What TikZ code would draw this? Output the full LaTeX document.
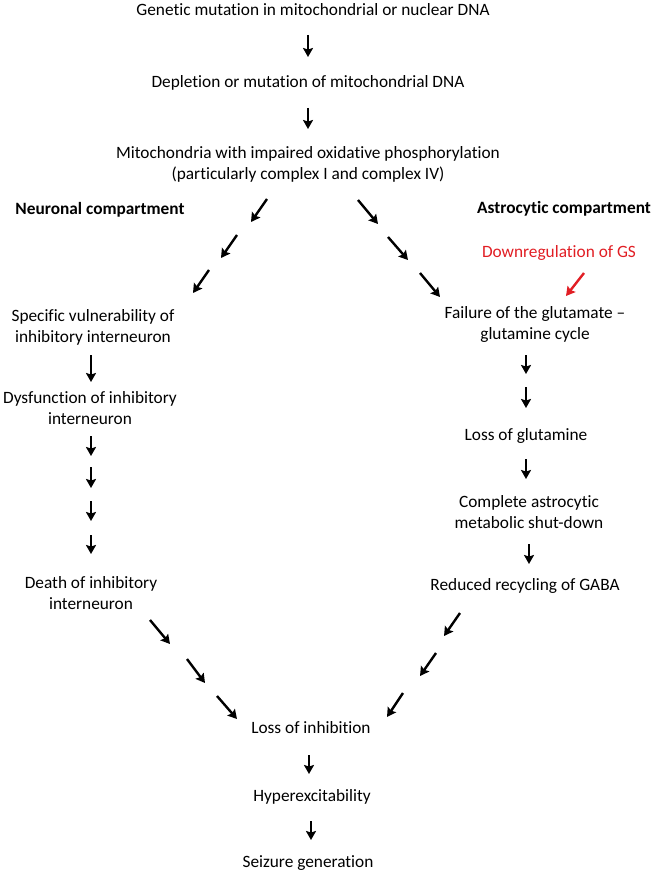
\documentclass[tikz,border=0pt]{standalone}
\usepackage{fontspec}
\setmainfont[Ligatures={NoCommon}]{Carlito}
\usetikzlibrary{arrows.meta}
\definecolor{gsred}{RGB}{225,30,36}
\begin{document}
\begin{tikzpicture}[x=1pt,y=-1pt,
  txt/.style={font=\fontsize{17.3}{21}\selectfont, align=center, inner sep=0pt, anchor=center},
  hdr/.style={txt, font=\fontsize{17.3}{21}\selectfont\bfseries},
  arr/.style={line width=2.4pt, -{Stealth[length=9pt,width=10pt,inset=1.5pt]}},
  redarr/.style={arr, draw=gsred}]
\useasboundingbox (0,0) rectangle (655,874);
% nodes
\node[txt] (t1) at (313,10) {Genetic mutation in mitochondrial or nuclear DNA};
\node[txt] (t2) at (308,83) {Depletion or mutation of mitochondrial DNA};
\node[txt] (t3) at (308,164) {Mitochondria with impaired oxidative phosphorylation\\(particularly complex I and complex IV)};
\node[hdr] (hn) at (100,210) {Neuronal compartment};
\node[hdr] (ha) at (564,209) {Astrocytic compartment};
\node[txt, text=gsred] (gs) at (559,253) {Downregulation of GS};
\node[txt] (n1) at (93,327) {Specific vulnerability of\\inhibitory interneuron};
\node[txt] (n2) at (90,408) {Dysfunction of inhibitory\\interneuron};
\node[txt] (n3) at (91,593) {Death of inhibitory\\interneuron};
\node[txt] (a1) at (535,324) {Failure of the glutamate --\\glutamine cycle};
\node[txt] (a2) at (526,436) {Loss of glutamine};
\node[txt] (a3) at (529,512) {Complete astrocytic\\metabolic shut-down};
\node[txt] (a4) at (525,586) {Reduced recycling of GABA};
\node[txt] (b1) at (311,728) {Loss of inhibition};
\node[txt] (b2) at (312,797) {Hyperexcitability};
\node[txt] (b3) at (308,863) {Seizure generation};
% arrow end points
\foreach \n/\xa/\ya/\xb/\yb in {
  c1/308/35/308/57, c2/308/108/308/129,
  l1/267/199/251/222, l2/237/235/221/258, l3/209/270/193/293,
  r1/358/200/378/224, r2/388/237/408/260, r3/420/273/440/297,
  g1/584/273/566/296,
  v1/91/355/91/382, v2/91/436/91/456, v3/91/467/91/488, v4/91/501/91/521, v5/91/535/91/554,
  w1/526/355/526/374, w2/526/387/526/408, w3/526/459/526/479, w4/529/544/529/564,
  d1/150/620/170/644, d2/187/659/205/683, d3/217/696/237/719,
  e1/460/613/444/636, e2/436/653/420/676, e3/403/693/387/717,
  f1/309/755/309/774, f2/311/821/311/840}
  {\coordinate (\n s) at (\xa,\ya); \coordinate (\n e) at (\xb,\yb);}
\foreach \n in {c1,c2,l1,l2,l3,r1,r2,r3,v1,v2,v3,v4,v5,w1,w2,w3,w4,d1,d2,d3,e1,e2,e3,f1,f2}
  {\draw[arr] (\n s) -- (\n e);}
\draw[redarr] (g1s) -- (g1e);
\end{tikzpicture}
\end{document}
